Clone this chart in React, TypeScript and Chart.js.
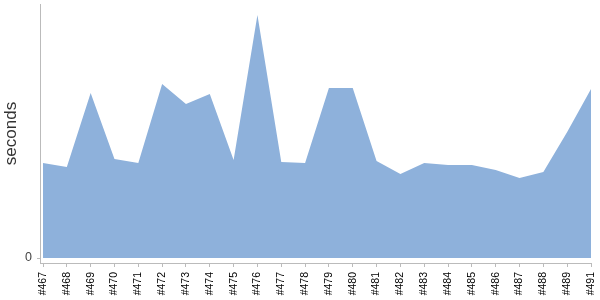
import React, { useEffect, useRef } from "react";
import { Chart, registerables } from "chart.js";

Chart.register(...registerables);

const builds: string[] = [
  "#467", "#468", "#469", "#470", "#471", "#472", "#473", "#474", "#475", "#476",
  "#477", "#478", "#479", "#480", "#481", "#482", "#483", "#484", "#485", "#486",
  "#487", "#488", "#489", "#491",
];

const seconds: number[] = [
  95, 91, 165, 99, 95, 174, 154, 164, 98, 243,
  96, 95, 170, 170, 97, 84, 95, 93, 93, 88,
  80, 86, 126, 169,
];

const yTickValues: number[] = [0];
const yAxisTitle = "seconds";

export default function App() {
  const ref = useRef<HTMLCanvasElement | null>(null);

  useEffect(() => {
    if (!ref.current) return;
    const chart = new Chart(ref.current, {
      type: "line",
      data: {
        datasets: [
          {
            data: seconds.map((v, i) => ({ x: i, y: v })),
            backgroundColor: "#8eb1db",
            borderWidth: 0,
            borderColor: "rgba(0,0,0,0)",
            pointRadius: 0,
            fill: "origin",
            tension: 0,
          },
        ],
      },
      options: {
        animation: false,
        responsive: false,
        layout: { padding: { top: 4, right: 9, left: 0, bottom: 0 } },
        plugins: { legend: { display: false }, tooltip: { enabled: false } },
        scales: {
          x: {
            type: "linear",
            min: -0.126,
            max: builds.length - 1,
            afterBuildTicks: (s: any) => {
              s.ticks = builds.map((_, i) => ({ value: i }));
            },
            afterFit: (s: any) => {
              s.height = 37;
              s.paddingLeft = 0;
              s.paddingRight = 0;
            },
            ticks: {
              autoSkip: false,
              minRotation: 90,
              maxRotation: 90,
              padding: 5,
              color: "#000",
              font: { family: "Liberation Sans", size: 10.5 },
              callback: (v: any) => builds[Math.round(Number(v))] ?? "",
            },
            grid: { drawOnChartArea: false, drawTicks: true, tickLength: 4, color: "#bbb" },
            border: { display: true, color: "#bbb" },
          },
          y: {
            min: -5,
            max: 254,
            afterBuildTicks: (s: any) => {
              s.ticks = yTickValues.map((v) => ({ value: v }));
            },
            afterFit: (s: any) => {
              s.width = 40;
              s.paddingTop = 0;
              s.paddingBottom = 0;
            },
            ticks: {
              padding: 5,
              color: "#444",
              font: { family: "Liberation Sans", size: 12.5 },
            },
            grid: { drawOnChartArea: false, drawTicks: true, tickLength: 3, color: "#bbb" },
            border: { display: true, color: "#bbb" },
            title: {
              display: true,
              text: yAxisTitle,
              color: "#333",
              padding: { top: 1, bottom: 0 },
              font: { family: "Liberation Sans", size: 17 },
            },
          },
        },
      },
    });
    return () => chart.destroy();
  }, []);

  return (
    <div style={{ position: "absolute", left: 0, top: 0, width: 600, height: 300 }}>
      <canvas ref={ref} width={600} height={300} style={{ width: 600, height: 300 }} />
    </div>
  );
}
